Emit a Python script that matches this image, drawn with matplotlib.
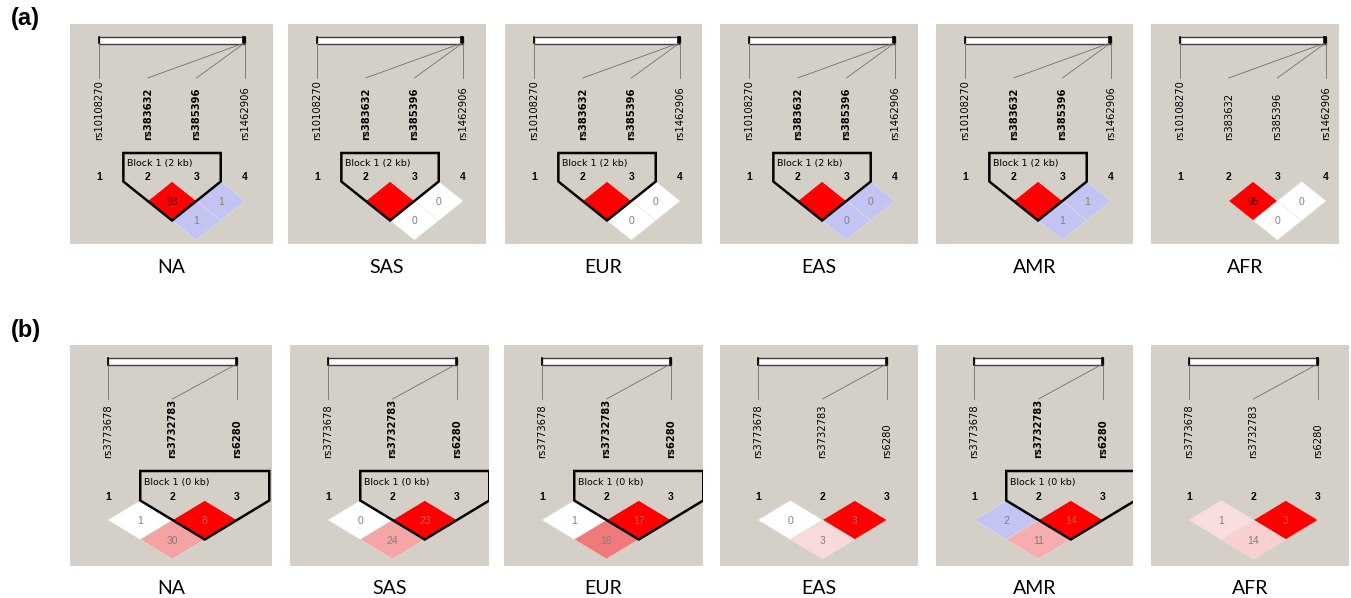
import matplotlib
matplotlib.use('Agg')
import matplotlib.pyplot as plt
from matplotlib.patches import Polygon, Rectangle

W, H = 1351, 598

pops = ['NA', 'SAS', 'EUR', 'EAS', 'AMR', 'AFR']

# row (a)
a_snps = ['rs10108270', 'rs383632', 'rs385396', 'rs1462906']
a_phys = [0.0, 0.984, 0.992, 1.0]  # relative physical position on the bar
a_pairs = [(2, 3), (3, 4), (2, 4)]
a_values = [[93, 1, 1], [None, 0, 0], [None, 0, 0], [None, 0, 0], [None, 1, 1], [95, 0, 0]]
a_colors = [['#ff0000', '#c4c4f2', '#c4c4f2'],
            ['#ff0000', '#ffffff', '#ffffff'],
            ['#ff0000', '#ffffff', '#ffffff'],
            ['#ff0000', '#c4c4f2', '#c4c4f2'],
            ['#ff0000', '#c4c4f2', '#c4c4f2'],
            ['#ff0000', '#ffffff', '#ffffff']]
a_block = [(2, 3), (2, 3), (2, 3), (2, 3), (2, 3), None]
a_block_txt = 'Block 1 (2 kb)'

# row (b)
b_snps = ['rs3773678', 'rs3732783', 'rs6280']
b_phys = [0.0, 0.99, 1.0]
b_pairs = [(1, 2), (2, 3), (1, 3)]
b_values = [[1, 8, 30], [0, 23, 24], [1, 17, 16], [0, 3, 3], [2, 14, 11], [1, 3, 14]]
b_colors = [['#ffffff', '#ff0000', '#f4a2a2'],
            ['#ffffff', '#ff0000', '#f4a6a6'],
            ['#ffffff', '#ff0000', '#f07a7a'],
            ['#ffffff', '#ff0000', '#f9dada'],
            ['#c4c4f2', '#ff0000', '#f6adad'],
            ['#f9dede', '#ff0000', '#f8d0d0']]
b_block = [(2, 3), (2, 3), (2, 3), None, (2, 3), None]
b_block_txt = 'Block 1 (0 kb)'

# panel boxes (left, top, width, height) in pixels
a_boxes = [(70, 24, 203, 220), (288, 24, 198, 220), (505, 24, 197, 220),
           (720, 24, 198, 220), (936, 24, 197, 220), (1151, 24, 188, 220)]
b_boxes = [(70, 345, 202, 221), (290, 345, 199, 221), (504, 345, 199, 221),
           (720, 345, 198, 221), (936, 345, 197, 221), (1151, 345, 198, 221)]

BG = '#d4d0c8'

fig = plt.figure(figsize=(W / 100, H / 100), dpi=100)


def ld_panel(box, snps, phys, pairs, vals, cols, block, block_txt,
             x0, sp, name_y, num_y, c1, hh, block_top, red_txt):
    l, t, w, h = box
    ax = fig.add_axes([l / W, 1 - (t + h) / H, w / W, h / H])
    ax.set_xlim(0, w)
    ax.set_ylim(h, 0)
    ax.set_facecolor(BG)
    ax.set_xticks([])
    ax.set_yticks([])
    for s in ax.spines.values():
        s.set_visible(False)

    xs = [x0 + k * sp for k in range(len(snps))]
    # physical map bar
    bx0, bx1 = xs[0], xs[-1]
    ax.add_patch(Rectangle((bx0, 12.5), bx1 - bx0, 7, facecolor='white',
                           edgecolor='#404040', lw=1.0))
    for k, p in enumerate(phys):
        px = bx0 + p * (bx1 - bx0)
        ax.plot([px, px], [12.5, 19.5], color='black', lw=1.2)
        ax.plot([px, xs[k]], [19.5, 54], color='#707070', lw=0.6)

    in_block = set(range(block[0], block[1] + 1)) if block else set()
    for k, name in enumerate(snps):
        ax.text(xs[k], name_y, name, rotation=90, ha='center', va='bottom',
                fontsize=7.2, color='black',
                fontweight='bold' if (k + 1) in in_block else 'normal')
        ax.text(xs[k], num_y, str(k + 1), ha='center', va='center',
                fontsize=7.5, fontweight='bold', family='Liberation Sans')

    hw = sp / 2
    for (i, j), v, c in zip(pairs, vals, cols):
        cx = (xs[i - 1] + xs[j - 1]) / 2
        cy = c1 + (j - i - 1) * hh
        ax.add_patch(Polygon([(cx, cy - hh), (cx + hw, cy), (cx, cy + hh), (cx - hw, cy)],
                             closed=True, facecolor=c, edgecolor='#e6e6e6', lw=0.3))
        if v is not None:
            tc = red_txt if c == '#ff0000' else '#808080'
            ax.text(cx, cy + 1, str(v), ha='center', va='center', fontsize=7.5,
                    color=tc, family='Liberation Sans')

    if block:
        a, b = block
        xl = xs[a - 1] - hw
        xr = xs[b - 1] + hw
        ytop_d = c1 - hh
        bot = ((xs[a - 1] + xs[b - 1]) / 2, ytop_d + (b - a + 1) * hh)
        ax.add_patch(Polygon([(xl, block_top), (xr, block_top), (xr, ytop_d), bot,
                              (xl, ytop_d)], closed=True, fill=False,
                             edgecolor='black', lw=1.8, joinstyle='miter'))
        ax.text(xl + 4, block_top + 11, block_txt, ha='left', va='center',
                fontsize=6.8)


for k in range(6):
    ld_panel(a_boxes[k], a_snps, a_phys, a_pairs, a_values[k], a_colors[k],
             a_block[k], a_block_txt, 29, 48.7, 116, 153, 177, 19.5, 129, '#500000')
    ld_panel(b_boxes[k], b_snps, b_phys, b_pairs, b_values[k], b_colors[k],
             b_block[k], b_block_txt, 38, 64.5, 113, 152, 175, 19.5, 126, '#c85a5a')
    l, t, w, h = a_boxes[k]
    fig.text((l + w / 2) / W, 1 - 268 / H, pops[k], ha='center', va='center',
             fontsize=14, family='Lato')
    l, t, w, h = b_boxes[k]
    fig.text((l + w / 2) / W, 1 - 589 / H, pops[k], ha='center', va='center',
             fontsize=14, family='Lato')

fig.text(11 / W, 1 - 19 / H, '(a)', ha='left', va='center', fontsize=17,
         fontweight='bold', family='Liberation Sans')
fig.text(11 / W, 1 - 330 / H, '(b)', ha='left', va='center', fontsize=17,
         fontweight='bold', family='Liberation Sans')

fig.savefig('out.png', dpi=100, facecolor='white')
